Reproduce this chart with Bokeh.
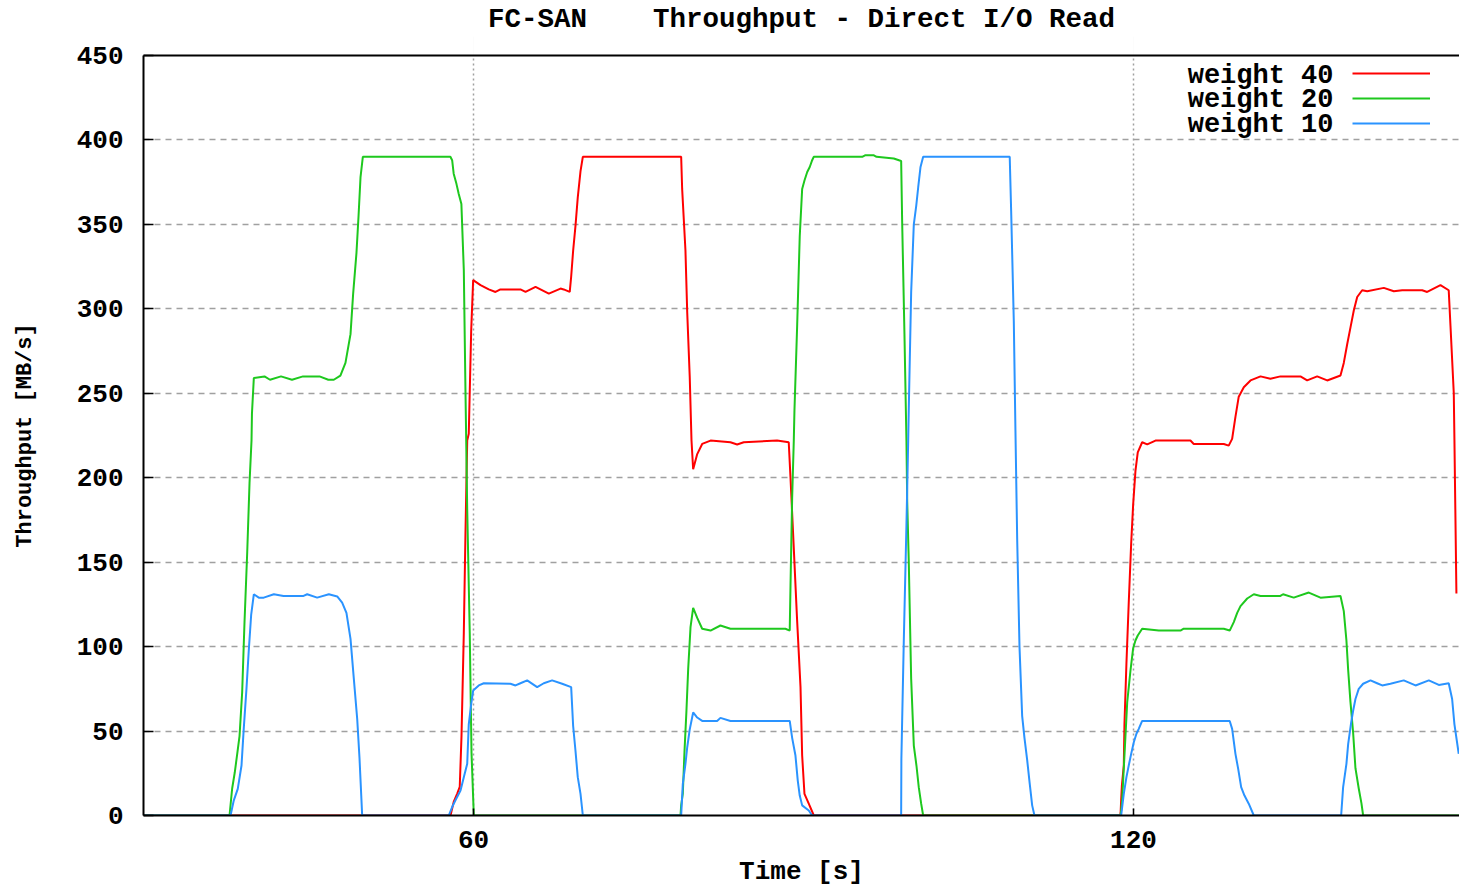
from bokeh.plotting import figure
from bokeh.models import Range1d, FixedTicker, Label, Legend, LegendItem, LinearAxis
from bokeh.core.properties import value
from bokeh.embed import file_html
from bokeh.resources import INLINE

# ---------------- data ----------------
title_text = "FC-SAN\u00a0\u00a0\u00a0\u00a0Throughput - Direct I/O Read"
x_label = "Time [s]"
y_label = "Throughput [MB/s]"
x_ticks = [60, 120]
y_ticks = [0, 50, 100, 150, 200, 250, 300, 350, 400, 450]
series_names = ["weight 40", "weight 20", "weight 10"]
series_colors = ["#ff0000", "#1ec81e", "#2a93ff"]

# weight 40
t40 = [30.0, 57.91, 58.2, 58.52, 58.75, 58.91, 59.12, 59.27, 59.43, 59.57, 59.79, 59.97,
       60.64, 61.39, 62.0, 62.45, 64.27, 64.73, 65.64, 66.85, 67.91, 68.2, 68.75, 68.88,
       69.06, 69.27, 69.48, 69.73, 69.94, 78.88, 78.97, 79.27, 79.43, 79.66, 79.82, 79.97,
       80.34, 80.79, 81.55, 83.36, 83.97, 84.57, 87.6, 88.66, 88.82, 89.12, 89.41, 89.73,
       89.88, 90.09, 90.48, 90.94, 118.82, 118.88, 118.95, 119.12, 119.18, 119.36, 119.57,
       119.79, 119.97, 120.18, 120.39, 120.79, 121.25, 122.0, 125.18, 125.48, 128.21,
       128.66, 128.97, 129.27, 129.57, 130.03, 130.64, 131.55, 132.45, 133.36, 135.18,
       135.79, 136.7, 137.61, 138.82, 139.12, 139.43, 139.73, 140.03, 140.34, 140.79,
       141.25, 142.76, 143.67, 144.43, 146.25, 146.7, 147.91, 148.66, 148.82, 149.12,
       149.18, 149.36]
v40 = [0, 0, 8, 13, 17, 47, 108, 167, 222, 226, 287, 317,
       314, 311.5, 310, 311.5, 311.5, 310, 313, 309, 312, 311.5, 310, 319,
       334.5, 349, 366, 381.5, 390, 390, 371, 334.5, 298, 259.5, 222, 205,
       214, 220, 222, 221, 219.7, 221, 222, 221, 200, 158, 117, 76,
       35.5, 12.8, 7, 0, 0, 9, 18, 29.6, 54, 90, 126,
       161, 184, 204, 215, 221, 219.7, 222, 222, 220, 220,
       219, 223, 236, 248, 253.6, 257.6, 260, 258.6, 260, 260,
       257.6, 260, 257.6, 260.5, 268, 279, 289, 299, 307, 311,
       310.4, 312.4, 310.4, 311, 311, 310, 314, 311, 290, 250,
       222, 131.4]

# weight 20
t20 = [30.0, 37.82, 38.06, 38.3, 38.52, 38.73, 38.97, 39.18, 39.43, 39.64, 39.82, 39.86,
       40.03, 41.0, 41.5, 42.5, 43.5, 44.5, 46.0, 46.8, 47.3, 47.9, 48.36, 48.82, 49.06,
       49.36, 49.55, 49.73, 49.94, 57.9, 58.06, 58.2, 58.45, 58.66, 58.9, 59.12, 59.27,
       59.43, 59.66, 59.82, 60.03, 78.82, 78.88, 79.03, 79.18, 79.36, 79.52, 79.73, 79.97,
       80.34, 80.79, 81.55, 82.45, 83.36, 88.36, 88.75, 88.82, 88.97, 89.12, 89.18, 89.43,
       89.66, 89.88, 90.09, 90.34, 90.57, 90.79, 90.93, 95.34, 95.64, 96.36, 96.64, 98.21,
       98.88, 98.97, 99.18, 99.36, 99.43, 99.57, 99.79, 100.03, 100.27, 100.48, 100.7,
       100.88, 118.82, 118.88, 118.97, 119.12, 119.43, 119.73, 119.97, 120.18, 120.39,
       120.79, 122.3, 124.27, 124.57, 128.21, 128.75, 129.12, 129.43, 129.73, 130.34,
       130.94, 131.55, 133.36, 133.6, 134.57, 135.94, 137.0, 138.82, 139.12, 139.36,
       139.52, 139.73, 139.97, 140.18, 140.48, 140.73, 140.88, 149.64]
v20 = [0, 0, 16, 25.6, 36.5, 47, 73, 114, 156, 197, 222, 238,
       259, 260, 258, 260, 258, 260, 260, 258, 258, 260.5, 268, 285, 309,
       333, 355, 378, 390, 390, 388, 380, 374, 368, 362, 323, 252,
       181, 108, 37, 0, 0, 6, 13, 37.5, 62, 87, 111.5, 123,
       117, 110.6, 109.5, 112.5, 110.6, 110.6, 109.5, 136, 188, 222, 240, 291,
       343, 371, 376, 381, 384, 388, 390, 390, 391, 391, 390, 389,
       387.5, 352, 285, 222, 186, 151, 81, 41.4, 29.6, 16.8, 7,
       0, 0, 3, 9, 28, 67, 86, 99, 103.6, 106.6,
       110.6, 109.5, 109.5, 110.6, 110.6, 109.5, 114.5, 120, 124, 128.5,
       131, 130, 130, 131, 129, 132, 129, 130, 121, 103.6,
       86, 67, 49, 28, 16, 7, 0, 0]

# weight 10
t10 = [30.0, 37.91, 38.21, 38.57, 38.91, 39.12, 39.36, 39.57, 39.79, 40.03, 40.48, 40.93,
       41.85, 42.73, 44.55, 44.88, 45.79, 46.85, 47.61, 48.06, 48.45, 48.82, 49.12, 49.43,
       49.64, 49.88, 57.75, 58.06, 58.36, 58.82, 59.12, 59.43, 59.57, 59.79, 59.97, 60.48,
       60.94, 63.36, 63.82, 64.27, 64.88, 65.79, 66.39, 67.15, 68.06, 68.88, 69.06, 69.27,
       69.48, 69.73, 69.94, 78.88, 79.03, 79.27, 79.43, 79.66, 79.97, 80.34, 80.79, 82.15,
       82.45, 83.36, 88.75, 88.97, 89.27, 89.48, 89.66, 89.88, 90.48, 90.79, 98.88, 98.9,
       99.12, 99.36, 99.52, 99.57, 99.79, 100.03, 100.25, 100.43, 100.64, 100.88, 108.75,
       108.88, 109.12, 109.27, 109.43, 109.64, 109.88, 110.09, 110.34, 110.57, 110.79,
       111.0, 118.88, 119.12, 119.36, 119.57, 119.79, 120.03, 120.27, 120.48, 120.79,
       128.75, 128.97, 129.27, 129.52, 129.79, 130.09, 130.48, 130.94, 138.88, 139.06,
       139.36, 139.52, 139.79, 139.97, 140.18, 140.48, 140.88, 141.55, 142.15, 142.61,
       143.36, 144.57, 145.64, 146.85, 147.76, 148.66, 148.97, 149.18, 149.57]
v10 = [0, 0, 9, 15.8, 29.6, 52, 75, 97.7, 119, 131, 129, 129,
       131, 130, 130, 131, 129, 131, 129.7, 126, 120, 104.6, 81, 57,
       33.6, 0, 0, 5, 9, 14.8, 22.7, 30.6, 54, 66, 74, 77,
       78.3, 78, 77, 78.3, 80, 76, 78.3, 80, 78, 76, 53, 38.5,
       22.7, 12.8, 0, 0, 18.7, 30.6, 40.4, 51, 61, 58, 56, 56,
       57.8, 56, 56, 46, 35.5, 20.7, 11.8, 6, 3, 0, 0, 33.6,
       103.6, 171.7, 222, 240, 310, 350, 361, 372, 384, 390, 390,
       358, 293, 228, 163, 99.7, 59, 46, 32.6, 18.7, 6,
       0, 0, 12.8, 22.7, 29.6, 36.5, 43.4, 48.4, 51.3, 56,
       56, 51.3, 36.5, 27.6, 16.8, 11.8, 7, 0, 0, 16.8,
       30.6, 42.4, 55, 62, 69, 75, 78, 80, 78.3, 77,
       78, 80, 77, 80, 77.3, 78.3, 69, 54, 36.5]

FONT = "Liberation Mono"

p = figure(width=1459, height=890,
           x_range=Range1d(30, 149.64), y_range=Range1d(0, 450),
           output_backend="svg", toolbar_location=None,
           min_border_left=143, min_border_right=0, min_border_top=55, min_border_bottom=75,
           outline_line_color=None, background_fill_color="white", border_fill_color="white")

xa = p.below[0]
ya = p.left[0]

# top border: mirrored axis without labels; its (practically invisible) outward
# ticks reserve room below the title
top_axis = LinearAxis(ticker=FixedTicker(ticks=x_ticks), axis_line_color="black", axis_line_width=2,
                      major_tick_line_color="black", major_tick_line_alpha=0.01,
                      minor_tick_line_color=None,
                      major_tick_in=0, major_tick_out=19, minor_tick_in=0, minor_tick_out=0,
                      major_label_standoff=0,
                      major_label_overrides={tk: "" for tk in x_ticks})
p.add_layout(top_axis, "above")

p.title.text = title_text
p.title.align = "center"
p.title.text_font = FONT
p.title.text_font_size = "27.5px"
p.title.text_font_style = "bold"
p.title.text_color = "black"
p.title.standoff = 3

# axes
xa.ticker = FixedTicker(ticks=x_ticks)
ya.ticker = FixedTicker(ticks=y_ticks)
for ax in (xa, ya):
    ax.axis_line_color = "black"
    ax.axis_line_width = 2
    ax.major_tick_line_color = "black"
    ax.major_tick_line_width = 1.5
    ax.major_tick_out = 0
    ax.minor_tick_line_color = None
    ax.minor_tick_out = 0
    ax.minor_tick_in = 0
    ax.major_label_text_font = FONT
    ax.major_label_text_font_size = "26px"
    ax.major_label_text_font_style = "bold"
    ax.major_label_text_color = "black"
    ax.axis_label_text_font = FONT
    ax.axis_label_text_font_style = "bold"
    ax.axis_label_text_color = "black"
xa.major_tick_in = 7
xa.major_label_standoff = 15
xa.axis_label = x_label
xa.axis_label_text_font_size = "26px"
xa.axis_label_standoff = 6
ya.major_tick_in = 10
ya.major_label_standoff = 20
ya.axis_label = y_label
ya.axis_label_text_font_size = "22px"
ya.axis_label_standoff = 36

# grid
p.xgrid.grid_line_color = "#a0a0a0"
p.xgrid.grid_line_width = 1.5
p.xgrid.grid_line_dash = "2 3"
p.ygrid.grid_line_color = "#a0a0a0"
p.ygrid.grid_line_width = 1.5
p.ygrid.grid_line_dash = "6 5"

# series
renderers = []
for (t, v), col in zip([(t40, v40), (t20, v20), (t10, v10)], series_colors):
    r = p.line(t, v, line_color=col, line_width=2)
    renderers.append(r)

# legend: text on the left, line sample on the right (gnuplot style)
legend = Legend(items=[LegendItem(label=value(""), renderers=[r]) for r in renderers],
                location=(1209, 682), glyph_width=78, glyph_height=20, label_height=20,
                label_width=0, label_standoff=0, spacing=5, padding=0, margin=0,
                border_line_color=None, background_fill_alpha=0,
                label_text_font_size="1px")
p.add_layout(legend)

for name, yy in zip(series_names, [740, 716, 691]):
    p.add_layout(Label(x=1190, y=yy, x_units="screen", y_units="screen", text=name,
                       text_align="right", text_baseline="middle", text_font=FONT,
                       text_font_size="27px", text_font_style="bold", text_color="black"))

open("out.html", "w").write(file_html(p, INLINE))
